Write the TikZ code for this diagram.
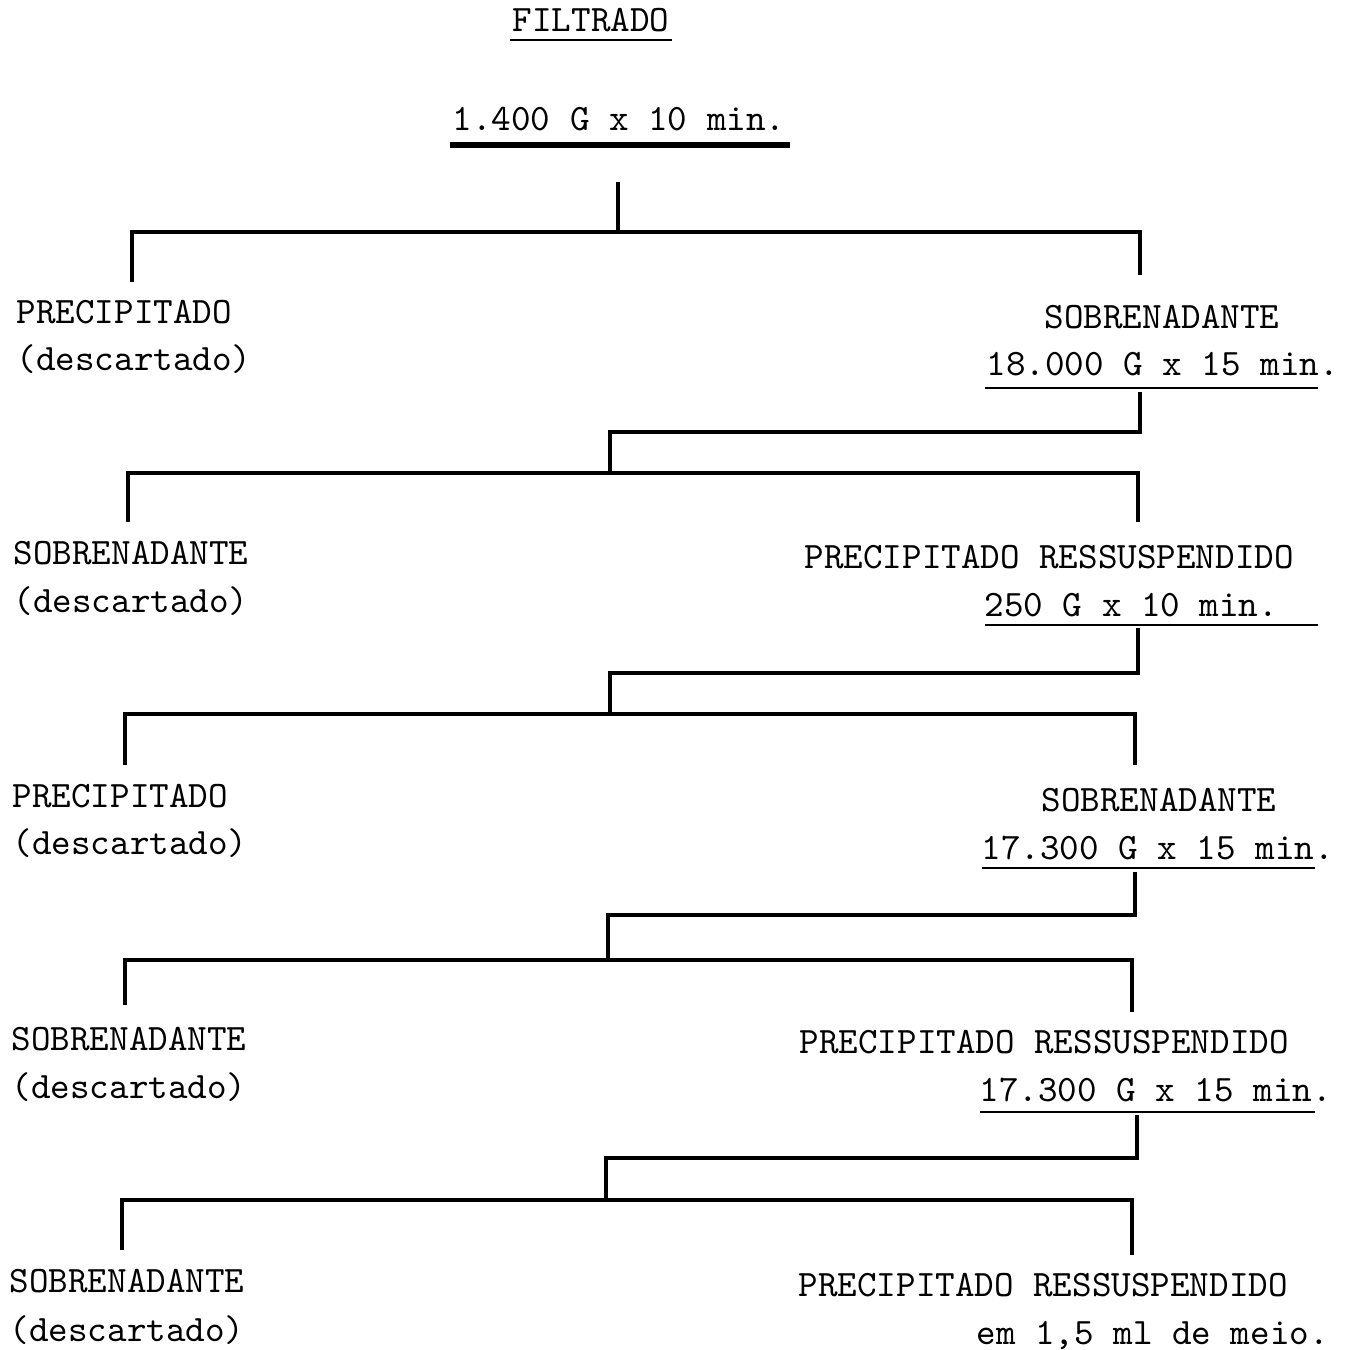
\documentclass[tikz,border=0pt]{standalone}
\usepackage{fontspec}

\begin{document}
\begin{tikzpicture}[x=0.01cm,y=-0.01cm,line width=0.9pt,
  rotulo/.style={font=\fontsize{10.6}{12}\selectfont\ttfamily\addfontfeatures{FakeBold=0.6},inner sep=0pt,anchor=base west},
  ramo/.style={line width=0.9pt},
  sublinha/.style={line width=0.8pt}]
  \useasboundingbox (0,0) rectangle (1345,1350);
  % topo
  \node[rotulo,anchor=base] (filtrado) at (591,31){FILTRADO};
  \draw[sublinha] (510,40)--(672,40);
  \node[rotulo,anchor=base] (g1400) at (619,130){1.400 G x 10 min.};
  \draw[sublinha,line width=1.6pt] (450,145)--(790,145);
  % nivel 1
  \coordinate (s1) at (618,182); \coordinate (m1) at (618,232);
  \coordinate (e1) at (132,282); \coordinate (d1) at (1140,275);
  \draw[ramo] (s1)--(m1);
  \draw[ramo] (e1)--(e1 |- m1)--(d1 |- m1)--(d1);
  \node[rotulo] (prec1) at (15,323){PRECIPITADO};
  \node[rotulo] (desc1) at (15,370){(descartado)};
  \node[rotulo] (sobr1) at (1043,328){SOBRENADANTE};
  \node[rotulo] (g18000) at (985,375){18.000 G x 15 min.};
  \draw[sublinha] (985,388)--(1318,388);
  % nivel 2
  \coordinate (s2) at (1140,392); \coordinate (k2) at (0,432); \coordinate (m2) at (610,473);
  \coordinate (e2) at (128,522); \coordinate (d2) at (1138,522);
  \draw[ramo] (s2)--(s2 |- k2)--(m2 |- k2)--(m2);
  \draw[ramo] (e2)--(e2 |- m2)--(d2 |- m2)--(d2);
  \node[rotulo] (sobr2) at (12,564){SOBRENADANTE};
  \node[rotulo] (desc2) at (12,612){(descartado)};
  \node[rotulo] (ress2) at (803,568){PRECIPITADO RESSUSPENDIDO};
  \node[rotulo] (g250) at (983,616){250 G x 10 min.};
  \draw[sublinha] (985,625)--(1318,625);
  % nivel 3
  \coordinate (s3) at (1138,628); \coordinate (k3) at (0,673); \coordinate (m3) at (610,714);
  \coordinate (e3) at (125,765); \coordinate (d3) at (1135,765);
  \draw[ramo] (s3)--(s3 |- k3)--(m3 |- k3)--(m3);
  \draw[ramo] (e3)--(e3 |- m3)--(d3 |- m3)--(d3);
  \node[rotulo] (prec3) at (11,807){PRECIPITADO};
  \node[rotulo] (desc3) at (11,854){(descartado)};
  \node[rotulo] (sobr3) at (1040,811){SOBRENADANTE};
  \node[rotulo] (g17300a) at (980,859){17.300 G x 15 min.};
  \draw[sublinha] (982,868)--(1315,868);
  % nivel 4
  \coordinate (s4) at (1135,872); \coordinate (k4) at (0,915); \coordinate (m4) at (608,960);
  \coordinate (e4) at (125,1005); \coordinate (d4) at (1132,1012);
  \draw[ramo] (s4)--(s4 |- k4)--(m4 |- k4)--(m4);
  \draw[ramo] (e4)--(e4 |- m4)--(d4 |- m4)--(d4);
  \node[rotulo] (sobr4) at (10,1050){SOBRENADANTE};
  \node[rotulo] (desc4) at (10,1098){(descartado)};
  \node[rotulo] (ress4) at (798,1053){PRECIPITADO RESSUSPENDIDO};
  \node[rotulo] (g17300b) at (978,1101){17.300 G x 15 min.};
  \draw[sublinha] (980,1112)--(1315,1112);
  % nivel 5
  \coordinate (s5) at (1137,1115); \coordinate (k5) at (0,1158); \coordinate (m5) at (606,1200);
  \coordinate (e5) at (122,1250); \coordinate (d5) at (1132,1255);
  \draw[ramo] (s5)--(s5 |- k5)--(m5 |- k5)--(m5);
  \draw[ramo] (e5)--(e5 |- m5)--(d5 |- m5)--(d5);
  \node[rotulo] (sobr5) at (8,1292){SOBRENADANTE};
  \node[rotulo] (desc5) at (8,1341){(descartado)};
  \node[rotulo] (ress5) at (797,1296){PRECIPITADO RESSUSPENDIDO};
  \node[rotulo] (meio) at (975,1344){em 1,5 ml de meio.};
\end{tikzpicture}
\end{document}
